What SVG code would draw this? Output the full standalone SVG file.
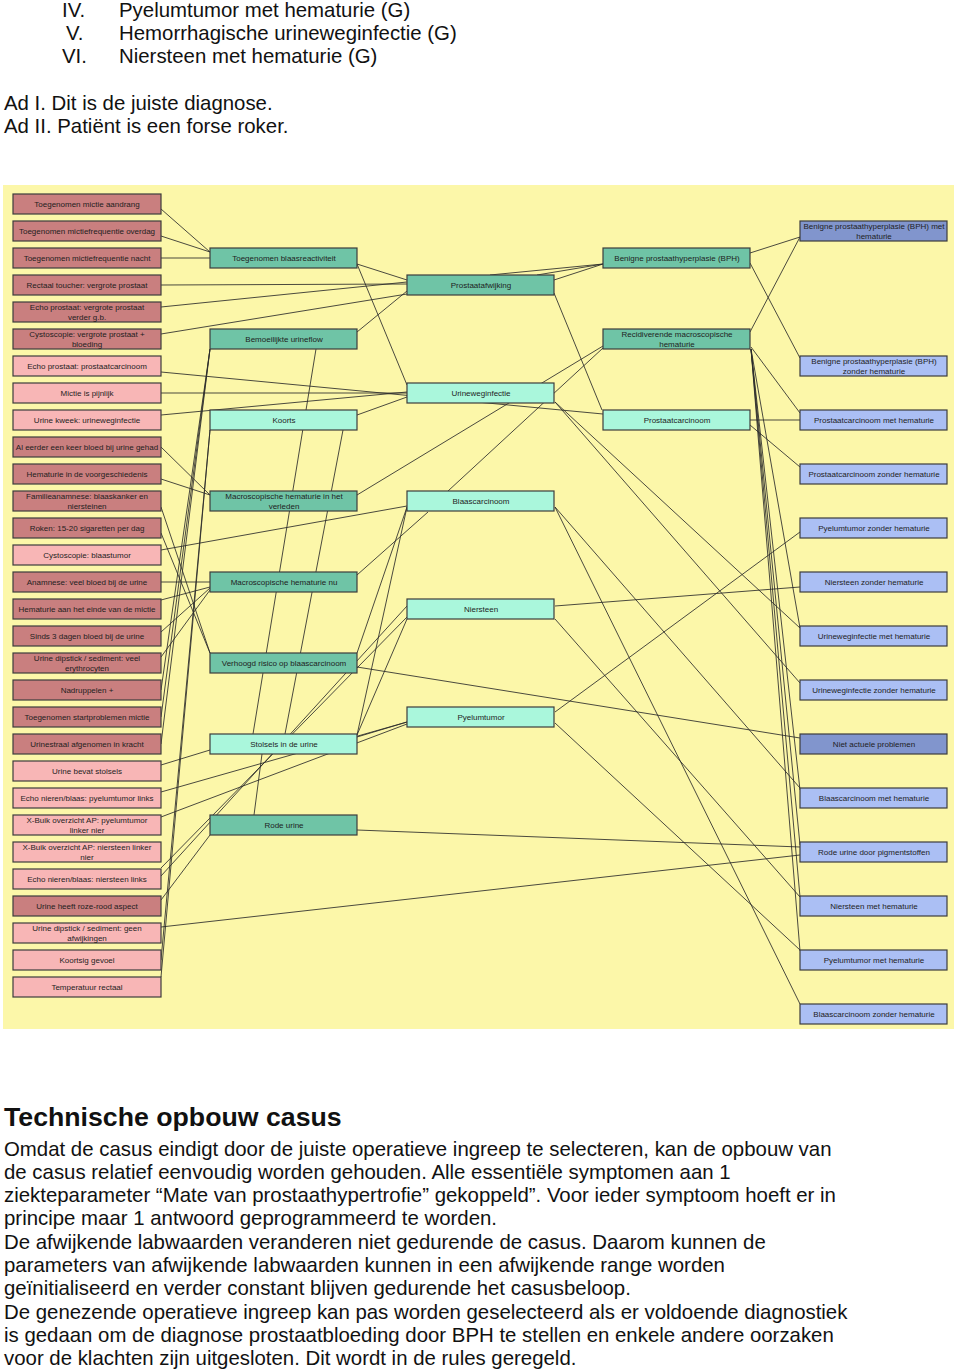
<svg xmlns="http://www.w3.org/2000/svg" width="960" height="1372" viewBox="0 0 960 1372">
<style>
.body{font-family:"Liberation Sans",Arial,sans-serif;font-size:20.4px;fill:#111}
.h{font-family:"Liberation Sans",Arial,sans-serif;font-size:26.7px;font-weight:bold;fill:#111}
.n text{font-family:"Liberation Sans",Arial,sans-serif;font-size:8px;fill:#1e1e1e;text-anchor:middle}
.n rect{stroke:#3c3c3c;stroke-width:1.2}
.r rect{fill:#c97f7f}
.p rect{fill:#f8b6b6}
.t rect{fill:#6fc4a6}
.a rect{fill:#aaf7dc}
.b rect{fill:#abbff4}
.d rect{fill:#8195cd}
#edges line{stroke:#2a2a2a;stroke-width:0.85;fill:none}
</style>
<rect width="960" height="1372" fill="#ffffff"/>
<text class="body" x="62" y="17">IV.</text><text class="body" x="119" y="17">Pyelumtumor met hematurie (G)</text>
<text class="body" x="66" y="40">V.</text><text class="body" x="119" y="40">Hemorrhagische urineweginfectie (G)</text>
<text class="body" x="62" y="63">VI.</text><text class="body" x="119" y="63">Niersteen met hematurie (G)</text>
<text class="body" x="4" y="110">Ad I. Dit is de juiste diagnose.</text>
<text class="body" x="4" y="133">Ad II. Patiënt is een forse roker.</text>

<rect x="3" y="185" width="951" height="844" fill="#fcf7a9"/>

<g id="edges">
<line x1="161" y1="209" x2="210" y2="252"/>
<line x1="161" y1="236" x2="210" y2="252"/>
<line x1="161" y1="258" x2="210" y2="258"/>
<line x1="161" y1="285" x2="407" y2="284"/>
<line x1="161" y1="307" x2="407" y2="282"/>
<line x1="161" y1="334" x2="407" y2="294"/>
<line x1="357" y1="264" x2="407" y2="280"/>
<line x1="357" y1="332" x2="407" y2="291"/>
<line x1="357" y1="264" x2="407" y2="385"/>
<line x1="554" y1="280" x2="603" y2="264"/>
<line x1="490" y1="275" x2="603" y2="264"/>
<line x1="537" y1="275" x2="603" y2="264"/>
<line x1="554" y1="293" x2="602" y2="410"/>
<line x1="750" y1="253" x2="800" y2="237"/>
<line x1="750" y1="263" x2="800" y2="358"/>
<line x1="750" y1="332" x2="800" y2="237"/>
<line x1="751" y1="347" x2="800" y2="413"/>
<line x1="751" y1="349" x2="800" y2="628"/>
<line x1="751" y1="349" x2="800" y2="790"/>
<line x1="751" y1="349" x2="800" y2="845"/>
<line x1="751" y1="349" x2="800" y2="897"/>
<line x1="751" y1="349" x2="800" y2="951"/>
<line x1="750" y1="420" x2="800" y2="420"/>
<line x1="750" y1="425" x2="800" y2="467"/>
<line x1="161" y1="372" x2="603" y2="414"/>
<line x1="161" y1="393" x2="407" y2="393"/>
<line x1="161" y1="415" x2="407" y2="392"/>
<line x1="357" y1="415" x2="407" y2="397"/>
<line x1="555" y1="402" x2="800" y2="628"/>
<line x1="555" y1="402" x2="800" y2="683"/>
<line x1="357" y1="495" x2="603" y2="346"/>
<line x1="448" y1="491" x2="603" y2="348"/>
<line x1="161" y1="447" x2="210" y2="495"/>
<line x1="161" y1="479" x2="210" y2="495"/>
<line x1="161" y1="507" x2="210" y2="653"/>
<line x1="161" y1="533" x2="210" y2="653"/>
<line x1="161" y1="550" x2="407" y2="506"/>
<line x1="161" y1="582" x2="210" y2="582"/>
<line x1="161" y1="600" x2="210" y2="587"/>
<line x1="161" y1="632" x2="210" y2="588"/>
<line x1="161" y1="657" x2="210" y2="590"/>
<line x1="161" y1="690" x2="210" y2="349"/>
<line x1="161" y1="717" x2="210" y2="349"/>
<line x1="161" y1="744" x2="210" y2="349"/>
<line x1="161" y1="765" x2="210" y2="750"/>
<line x1="161" y1="792" x2="407" y2="722"/>
<line x1="161" y1="817" x2="407" y2="724"/>
<line x1="161" y1="876" x2="407" y2="606"/>
<line x1="161" y1="868" x2="407" y2="617"/>
<line x1="161" y1="900" x2="210" y2="835"/>
<line x1="161" y1="927" x2="800" y2="855"/>
<line x1="161" y1="960" x2="210" y2="430"/>
<line x1="161" y1="977" x2="210" y2="430"/>
<line x1="357" y1="830" x2="800" y2="847"/>
<line x1="555" y1="507" x2="800" y2="788"/>
<line x1="555" y1="507" x2="800" y2="1004"/>
<line x1="555" y1="606" x2="800" y2="587"/>
<line x1="555" y1="619" x2="800" y2="897"/>
<line x1="555" y1="712" x2="800" y2="532"/>
<line x1="555" y1="723" x2="800" y2="950"/>
<line x1="357" y1="667" x2="800" y2="738"/>
<line x1="428" y1="512" x2="357" y2="575"/>
<line x1="407" y1="507" x2="357" y2="653"/>
<line x1="407" y1="507" x2="357" y2="735"/>
<line x1="407" y1="619" x2="357" y2="735"/>
<line x1="357" y1="737" x2="407" y2="722"/>
<line x1="316" y1="349" x2="253" y2="734"/>
<line x1="343" y1="430" x2="285" y2="734"/>
<line x1="262" y1="754" x2="254" y2="815"/>
</g>

<g id="n-l0" class="n r"><rect x="13" y="194" width="148" height="20"/><text x="87" y="207">Toegenomen mictie aandrang</text></g>
<g id="n-l1" class="n r"><rect x="13" y="221" width="148" height="20"/><text x="87" y="234">Toegenomen mictiefrequentie overdag</text></g>
<g id="n-l2" class="n r"><rect x="13" y="248" width="148" height="20"/><text x="87" y="261">Toegenomen mictiefrequentie nacht</text></g>
<g id="n-l3" class="n r"><rect x="13" y="275" width="148" height="20"/><text x="87" y="288">Rectaal toucher: vergrote prostaat</text></g>
<g id="n-l4" class="n r"><rect x="13" y="302" width="148" height="20"/><text x="87" y="310">Echo prostaat: vergrote prostaat</text><text x="87" y="320">verder g.b.</text></g>
<g id="n-l5" class="n r"><rect x="13" y="329" width="148" height="20"/><text x="87" y="337">Cystoscopie: vergrote prostaat +</text><text x="87" y="347">bloeding</text></g>
<g id="n-l6" class="n p"><rect x="13" y="356" width="148" height="20"/><text x="87" y="369">Echo prostaat: prostaatcarcinoom</text></g>
<g id="n-l7" class="n p"><rect x="13" y="383" width="148" height="20"/><text x="87" y="396">Mictie is pijnlijk</text></g>
<g id="n-l8" class="n p"><rect x="13" y="410" width="148" height="20"/><text x="87" y="423">Urine kweek: urineweginfectie</text></g>
<g id="n-l9" class="n r"><rect x="13" y="437" width="148" height="20"/><text x="87" y="450">Al eerder een keer bloed bij urine gehad</text></g>
<g id="n-l10" class="n r"><rect x="13" y="464" width="148" height="20"/><text x="87" y="477">Hematurie in de voorgeschiedenis</text></g>
<g id="n-l11" class="n r"><rect x="13" y="491" width="148" height="20"/><text x="87" y="499">Familieanamnese: blaaskanker en</text><text x="87" y="509">niersteinen</text></g>
<g id="n-l12" class="n r"><rect x="13" y="518" width="148" height="20"/><text x="87" y="531">Roken: 15-20 sigaretten per dag</text></g>
<g id="n-l13" class="n p"><rect x="13" y="545" width="148" height="20"/><text x="87" y="558">Cystoscopie: blaastumor</text></g>
<g id="n-l14" class="n r"><rect x="13" y="572" width="148" height="20"/><text x="87" y="585">Anamnese: veel bloed bij de urine</text></g>
<g id="n-l15" class="n r"><rect x="13" y="599" width="148" height="20"/><text x="87" y="612">Hematurie aan het einde van de mictie</text></g>
<g id="n-l16" class="n r"><rect x="13" y="626" width="148" height="20"/><text x="87" y="639">Sinds 3 dagen bloed bij de urine</text></g>
<g id="n-l17" class="n r"><rect x="13" y="653" width="148" height="20"/><text x="87" y="661">Urine dipstick / sediment: veel</text><text x="87" y="671">erythrocyten</text></g>
<g id="n-l18" class="n r"><rect x="13" y="680" width="148" height="20"/><text x="87" y="693">Nadruppelen +</text></g>
<g id="n-l19" class="n r"><rect x="13" y="707" width="148" height="20"/><text x="87" y="720">Toegenomen startproblemen mictie</text></g>
<g id="n-l20" class="n r"><rect x="13" y="734" width="148" height="20"/><text x="87" y="747">Urinestraal afgenomen in kracht</text></g>
<g id="n-l21" class="n p"><rect x="13" y="761" width="148" height="20"/><text x="87" y="774">Urine bevat stolsels</text></g>
<g id="n-l22" class="n p"><rect x="13" y="788" width="148" height="20"/><text x="87" y="801">Echo nieren/blaas: pyelumtumor links</text></g>
<g id="n-l23" class="n p"><rect x="13" y="815" width="148" height="20"/><text x="87" y="823">X-Buik overzicht AP: pyelumtumor</text><text x="87" y="833">linker nier</text></g>
<g id="n-l24" class="n p"><rect x="13" y="842" width="148" height="20"/><text x="87" y="850">X-Buik overzicht AP: niersteen linker</text><text x="87" y="860">nier</text></g>
<g id="n-l25" class="n p"><rect x="13" y="869" width="148" height="20"/><text x="87" y="882">Echo nieren/blaas: niersteen links</text></g>
<g id="n-l26" class="n r"><rect x="13" y="896" width="148" height="20"/><text x="87" y="909">Urine heeft roze-rood aspect</text></g>
<g id="n-l27" class="n p"><rect x="13" y="923" width="148" height="20"/><text x="87" y="931">Urine dipstick / sediment: geen</text><text x="87" y="941">afwijkingen</text></g>
<g id="n-l28" class="n p"><rect x="13" y="950" width="148" height="20"/><text x="87" y="963">Koortsig gevoel</text></g>
<g id="n-l29" class="n p"><rect x="13" y="977" width="148" height="20"/><text x="87" y="990">Temperatuur rectaal</text></g>

<g id="n-c1" class="n t"><rect x="210" y="248" width="147" height="20"/><text x="284" y="261">Toegenomen blaasreactiviteit</text></g>
<g id="n-c2" class="n t"><rect x="210" y="329" width="147" height="20"/><text x="284" y="342">Bemoeilijkte urineflow</text></g>
<g id="n-c3" class="n a"><rect x="210" y="410" width="147" height="20"/><text x="284" y="423">Koorts</text></g>
<g id="n-c4" class="n t"><rect x="210" y="491" width="147" height="20"/><text x="284" y="499">Macroscopische hematurie in het</text><text x="284" y="509">verleden</text></g>
<g id="n-c5" class="n t"><rect x="210" y="572" width="147" height="20"/><text x="284" y="585">Macroscopische hematurie nu</text></g>
<g id="n-c6" class="n t"><rect x="210" y="653" width="147" height="20"/><text x="284" y="666">Verhoogd risico op blaascarcinoom</text></g>
<g id="n-c7" class="n a"><rect x="210" y="734" width="147" height="20"/><text x="284" y="747">Stolsels in de urine</text></g>
<g id="n-c8" class="n t"><rect x="210" y="815" width="147" height="20"/><text x="284" y="828">Rode urine</text></g>

<g id="n-d1" class="n t"><rect x="407" y="275" width="147" height="20"/><text x="481" y="288">Prostaatafwijking</text></g>
<g id="n-d2" class="n a"><rect x="407" y="383" width="147" height="20"/><text x="481" y="396">Urineweginfectie</text></g>
<g id="n-d3" class="n a"><rect x="407" y="491" width="147" height="20"/><text x="481" y="504">Blaascarcinoom</text></g>
<g id="n-d4" class="n a"><rect x="407" y="599" width="147" height="20"/><text x="481" y="612">Niersteen</text></g>
<g id="n-d5" class="n a"><rect x="407" y="707" width="147" height="20"/><text x="481" y="720">Pyelumtumor</text></g>

<g id="n-e1" class="n t"><rect x="603" y="248" width="147" height="20"/><text x="677" y="261">Benigne prostaathyperplasie (BPH)</text></g>
<g id="n-e2" class="n t"><rect x="603" y="329" width="147" height="20"/><text x="677" y="337">Recidiverende macroscopische</text><text x="677" y="347">hematurie</text></g>
<g id="n-e3" class="n a"><rect x="603" y="410" width="147" height="20"/><text x="677" y="423">Prostaatcarcinoom</text></g>

<g id="n-f1" class="n d"><rect x="800" y="221" width="147" height="20"/><text x="874" y="229">Benigne prostaathyperplasie (BPH) met</text><text x="874" y="239">hematurie</text></g>
<g id="n-f2" class="n b"><rect x="800" y="356" width="147" height="20"/><text x="874" y="364">Benigne prostaathyperplasie (BPH)</text><text x="874" y="374">zonder hematurie</text></g>
<g id="n-f3" class="n b"><rect x="800" y="410" width="147" height="20"/><text x="874" y="423">Prostaatcarcinoom met hematurie</text></g>
<g id="n-f4" class="n b"><rect x="800" y="464" width="147" height="20"/><text x="874" y="477">Prostaatcarcinoom zonder hematurie</text></g>
<g id="n-f5" class="n b"><rect x="800" y="518" width="147" height="20"/><text x="874" y="531">Pyelumtumor zonder hematurie</text></g>
<g id="n-f6" class="n b"><rect x="800" y="572" width="147" height="20"/><text x="874" y="585">Niersteen zonder hematurie</text></g>
<g id="n-f7" class="n b"><rect x="800" y="626" width="147" height="20"/><text x="874" y="639">Urineweginfectie met hematurie</text></g>
<g id="n-f8" class="n b"><rect x="800" y="680" width="147" height="20"/><text x="874" y="693">Urineweginfectie zonder hematurie</text></g>
<g id="n-f9" class="n d"><rect x="800" y="734" width="147" height="20"/><text x="874" y="747">Niet actuele problemen</text></g>
<g id="n-f10" class="n b"><rect x="800" y="788" width="147" height="20"/><text x="874" y="801">Blaascarcinoom met hematurie</text></g>
<g id="n-f11" class="n b"><rect x="800" y="842" width="147" height="20"/><text x="874" y="855">Rode urine door pigmentstoffen</text></g>
<g id="n-f12" class="n b"><rect x="800" y="896" width="147" height="20"/><text x="874" y="909">Niersteen met hematurie</text></g>
<g id="n-f13" class="n b"><rect x="800" y="950" width="147" height="20"/><text x="874" y="963">Pyelumtumor met hematurie</text></g>
<g id="n-f14" class="n b"><rect x="800" y="1004" width="147" height="20"/><text x="874" y="1017">Blaascarcinoom zonder hematurie</text></g>

<text class="h" x="4" y="1126">Technische opbouw casus</text>
<text class="body" x="4" y="1156">Omdat de casus eindigt door de juiste operatieve ingreep te selecteren, kan de opbouw van</text>
<text class="body" x="4" y="1179">de casus relatief eenvoudig worden gehouden. Alle essentiële symptomen aan 1</text>
<text class="body" x="4" y="1202">ziekteparameter “Mate van prostaathypertrofie” gekoppeld”. Voor ieder symptoom hoeft er in</text>
<text class="body" x="4" y="1225">principe maar 1 antwoord geprogrammeerd te worden.</text>
<text class="body" x="4" y="1249">De afwijkende labwaarden veranderen niet gedurende de casus. Daarom kunnen de</text>
<text class="body" x="4" y="1272">parameters van afwijkende labwaarden kunnen in een afwijkende range worden</text>
<text class="body" x="4" y="1295">geïnitialiseerd en verder constant blijven gedurende het casusbeloop.</text>
<text class="body" x="4" y="1319">De genezende operatieve ingreep kan pas worden geselecteerd als er voldoende diagnostiek</text>
<text class="body" x="4" y="1342">is gedaan om de diagnose prostaatbloeding door BPH te stellen en enkele andere oorzaken</text>
<text class="body" x="4" y="1365">voor de klachten zijn uitgesloten. Dit wordt in de rules geregeld.</text>
</svg>
